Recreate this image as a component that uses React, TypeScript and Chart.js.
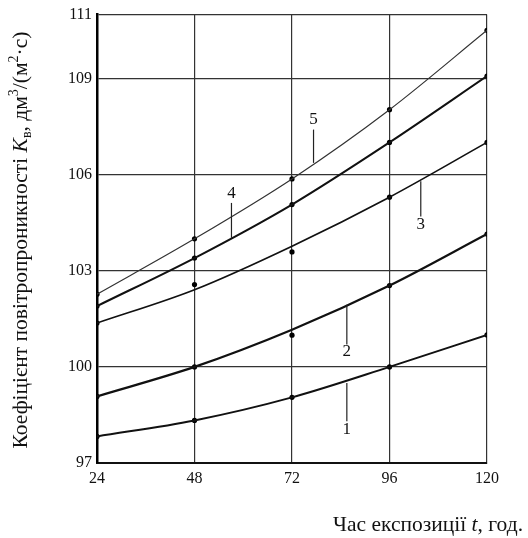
import React, { useEffect, useRef } from "react";
import { Chart, registerables } from "chart.js";

Chart.register(...registerables);

const hours = [24, 48, 72, 96, 120];
const xTicks = [24, 48, 72, 96, 120];
const yTicks = [97, 100, 103, 106, 109, 111];

const curve1 = [97.83, 98.33, 99.05, 100.0, 101.0];
const curve2 = [99.08, 100.0, 101.16, 102.54, 104.15];
const curve3 = [101.37, 102.41, 103.77, 105.3, 107.01];
const curve4 = [101.9, 103.4, 105.07, 107.01, 109.08];
const curve5 = [102.27, 104.0, 105.87, 108.03, 110.51];

const points1 = [97.83, 98.33, 99.05, 100.0, 101.0];
const points2 = [99.08, 100.0, 100.99, 102.54, 104.15];
const points3 = [101.37, 102.57, 103.59, 105.3, 107.01];
const points4 = [101.9, 103.4, 105.07, 107.01, 109.08];
const points5 = [102.27, 104.0, 105.87, 108.03, 110.51];

const curveNames = ["1", "2", "3", "4", "5"];
const labelX = [85.5, 85.5, 103.7, 57.1, 77.3];
const labelY = [98.04, 100.49, 104.44, 105.4, 107.72];
const leaderTop = [99.5, 101.94, 105.8, 105.12, 107.41];
const leaderBottom = [98.3, 100.7, 104.7, 104.03, 106.37];

// title pieces: [text, style] where style: n = normal, i = italic, sub = subscript, sup = superscript
const yTitleParts: [string, string][] = [
  ["Коефіцієнт повітропроникності ", "n"],
  ["K", "i"],
  ["в", "sub"],
  [", дм", "n"],
  ["3", "sup"],
  ["/(м", "n"],
  ["2", "sup"],
  ["·с)", "n"],
];
const xTitleParts: [string, string][] = [
  ["Час експозиції ", "n"],
  ["t", "i"],
  [", год.", "n"],
];

const FONT = "'Liberation Serif', 'Times New Roman', serif";

function drawParts(ctx: any, parts: [string, string][], size: number, x: number, y: number, align: string) {
  const fontFor = (st: string) =>
    st === "i"
      ? `italic ${size}px ${FONT}`
      : st === "sub" || st === "sup"
      ? `${Math.round(size * 0.65)}px ${FONT}`
      : `${size}px ${FONT}`;
  let total = 0;
  const widths = parts.map(([t, st]) => {
    ctx.font = fontFor(st);
    const w = ctx.measureText(t).width;
    total += w;
    return w;
  });
  let cx = align === "right" ? x - total : align === "center" ? x - total / 2 : x;
  ctx.textAlign = "left";
  ctx.textBaseline = "alphabetic";
  parts.forEach(([t, st], i) => {
    ctx.font = fontFor(st);
    const dy = st === "sub" ? size * 0.2 : st === "sup" ? -size * 0.4 : 0;
    ctx.fillText(t, cx, y + dy);
    cx += widths[i];
  });
}

const annotPlugin = {
  id: "annot",
  afterDatasetsDraw(chart: any) {
    const { ctx, scales } = chart;
    const xs = scales.x;
    const ys = scales.y;
    ctx.save();
    ctx.strokeStyle = "#222";
    ctx.lineWidth = 1.2;
    ctx.fillStyle = "#111";
    ctx.font = `17px ${FONT}`;
    ctx.textAlign = "center";
    ctx.textBaseline = "middle";
    for (let i = 0; i < curveNames.length; i++) {
      const px = xs.getPixelForValue(labelX[i]);
      ctx.beginPath();
      ctx.moveTo(px, ys.getPixelForValue(leaderTop[i]));
      ctx.lineTo(px, ys.getPixelForValue(leaderBottom[i]));
      ctx.stroke();
      ctx.fillText(curveNames[i], px, ys.getPixelForValue(labelY[i]));
    }
    drawParts(ctx, xTitleParts, 21.5, 523, 531, "right");
    ctx.save();
    ctx.translate(27, 240);
    ctx.rotate(-Math.PI / 2);
    drawParts(ctx, yTitleParts, 21.5, 0, 0, "center");
    ctx.restore();
    ctx.restore();
  },
};

export default function App() {
  const ref = useRef<HTMLCanvasElement>(null);
  useEffect(() => {
    if (!ref.current) return;
    const mk = (data: number[], w: number, color: string) => ({
      type: "line" as const,
      data: hours.map((h, i) => ({ x: h, y: data[i] })),
      borderColor: color,
      borderWidth: w,
      pointRadius: 0,
      cubicInterpolationMode: "monotone" as const,
      fill: false,
    });
    const mkPts = (data: number[]) => ({
      type: "scatter" as const,
      data: hours.map((h, i) => ({ x: h, y: data[i] })),
      pointRadius: 2.6,
      pointBackgroundColor: "#000",
      pointBorderWidth: 0,
      showLine: false,
    });
    const chart = new Chart(ref.current, {
      type: "line",
      data: {
        datasets: [
          mk(curve1, 2, "#111"),
          mk(curve2, 2.2, "#111"),
          mk(curve3, 1.7, "#111"),
          mk(curve4, 2, "#111"),
          mk(curve5, 1.2, "#333"),
          mkPts(points1),
          mkPts(points2),
          mkPts(points3),
          mkPts(points4),
          mkPts(points5),
        ] as any,
      },
      options: {
        animation: false,
        responsive: false,
        layout: { padding: { left: 0, top: 14, right: 41, bottom: 0 } },
        plugins: { legend: { display: false }, tooltip: { enabled: false } },
        scales: {
          x: {
            type: "linear",
            min: 24,
            max: 120,
            afterBuildTicks: (s: any) => {
              s.ticks = xTicks.map((v) => ({ value: v }));
            },
            afterFit: (s: any) => {
              s.height = 75;
            },
            grid: { color: "#333", lineWidth: 1.2, drawTicks: false },
            border: { color: "#111", width: 2 },
            ticks: {
              color: "#111",
              font: { family: FONT, size: 16 },
              padding: 6,
              maxRotation: 0,
              autoSkip: false,
            },
          },
          y: {
            type: "linear",
            min: 97,
            max: 111,
            afterBuildTicks: (s: any) => {
              s.ticks = yTicks.map((v) => ({ value: v }));
            },
            afterFit: (s: any) => {
              s.width = 97;
            },
            grid: { color: "#333", lineWidth: 1.2, drawTicks: false },
            border: { color: "#000", width: 2.5 },
            ticks: {
              color: "#111",
              font: { family: FONT, size: 16 },
              padding: 5,
              autoSkip: false,
            },
          },
        },
      },
      plugins: [annotPlugin],
    });
    return () => chart.destroy();
  }, []);
  return (
    <div style={{ position: "fixed", left: 0, top: 0, width: 528, height: 538, background: "#fff" }}>
      <canvas ref={ref} width={528} height={538} style={{ width: 528, height: 538 }} />
    </div>
  );
}
